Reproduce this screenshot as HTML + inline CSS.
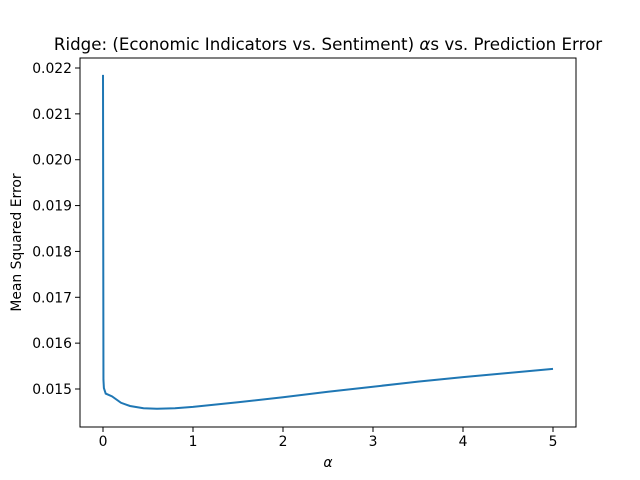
<!DOCTYPE html>
<html><head><meta charset="utf-8"><style>
body{margin:0;background:#fff;}
svg{display:block;font-family:"DejaVu Sans","Liberation Sans",sans-serif;}
</style></head><body>
<svg id="chart" width="640" height="480">
<rect width="640" height="480" fill="#fff"/>
<text x="328" y="50" font-size="16.67" text-anchor="middle">Ridge: (Economic Indicators vs. Sentiment) <tspan font-style="italic">α</tspan>s vs. Prediction Error</text>
<g id="xt"></g><g id="yt"></g>
<path id="line" fill="none" stroke="#1f77b4" stroke-width="2"/>
<rect x="80" y="58" width="496" height="369" fill="none" stroke="#000" stroke-width="1"/>
<text x="328" y="467" font-size="13.9" text-anchor="middle" font-style="italic">α</text>
<text transform="translate(21,242.5) rotate(-90)" font-size="13.9" text-anchor="middle">Mean Squared Error</text>
</svg>
<script>
const alphas=[0,0.005,0.01,0.03,0.1,0.2,0.3,0.45,0.6,0.8,1,1.5,2,2.5,3,3.5,4,4.5,5];
const mse=[0.02185,0.0152,0.01502,0.0149,0.01484,0.0147,0.01463,0.01458,0.01457,0.01458,0.01461,0.01471,0.01482,0.01494,0.01505,0.01516,0.01526,0.01535,0.01544];
const xTicks=[0,1,2,3,4,5];
const yTicks=[0.015,0.016,0.017,0.018,0.019,0.020,0.021,0.022];
const X=v=>103+v*90;
const Y=v=>389-(v-0.015)*45857;
const ns="http://www.w3.org/2000/svg";
function mk(t,a,p){const e=document.createElementNS(ns,t);for(const k in a)e.setAttribute(k,a[k]);p.appendChild(e);return e;}
const xt=document.getElementById('xt'),yt=document.getElementById('yt');
xTicks.forEach(v=>{
 const l=mk('line',{x1:X(v),x2:X(v),y1:427,y2:432,stroke:'#000','stroke-width':1},xt);
 
 
 const t=mk('text',{x:X(v),y:446,'font-size':13.9,'text-anchor':'middle'},xt);t.textContent=v;
 
 
});
yTicks.forEach(v=>{
 const l=mk('line',{x1:75,x2:80,y1:Y(v),y2:Y(v),stroke:'#000','stroke-width':1},yt);
 
 
 const t=mk('text',{x:72,y:Y(v)+5,'font-size':13.9,'text-anchor':'end'},yt);t.textContent=v.toFixed(3);
 
 
});
document.getElementById('line').setAttribute('d',alphas.map((a,i)=>(i?'L':'M')+X(a).toFixed(2)+','+Y(mse[i]).toFixed(2)).join(''));
</script>
</body></html>
